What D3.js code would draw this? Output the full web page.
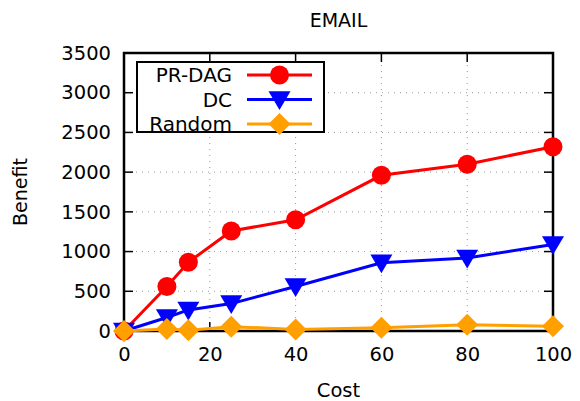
<!DOCTYPE html>
<html>
<head>
<meta charset="utf-8">
<script src="https://cdn.jsdelivr.net/npm/d3@7"></script>
<style>
  body { margin: 0; background: #fff; }
  text { font-family: "DejaVu Sans", Verdana, sans-serif; fill: #000; }
</style>
</head>
<body>
<svg id="chart" width="580" height="401"></svg>
<script>
var costs = [0, 10, 15, 25, 40, 60, 80, 100];
var prdag = [0, 560, 865, 1260, 1400, 1960, 2100, 2320];
var dc = [0, 170, 265, 345, 560, 860, 920, 1090];
var rand = [0, 25, 10, 55, 20, 40, 80, 60];

var xTicks = [0, 20, 40, 60, 80, 100];
var yTicks = [0, 500, 1000, 1500, 2000, 2500, 3000, 3500];

var seriesNames = ["PR-DAG", "DC", "Random"];
var seriesColors = ["#ff0000", "#0000ff", "#ff9f00"];
var seriesShapes = ["circle", "triangle", "diamond"];
var seriesValues = [prdag, dc, rand];

var svg = d3.select('#chart');

var pLeft = 124, pRight = 553, pTop = 53, pBottom = 331;

var x = d3.scaleLinear().domain([0, 100]).range([pLeft, pRight]);
var y = d3.scaleLinear().domain([0, 3500]).range([pBottom, pTop]);

// grid
var grid = svg.append('g').attr('class', 'grid');
grid.selectAll('.vg')
    .data(xTicks.slice(1, -1))
  .enter().append('line')
    .attr('x1', function(d) { return x(d); })
    .attr('x2', function(d) { return x(d); })
    .attr('y1', pTop)
    .attr('y2', pBottom)
    .attr('stroke', '#999')
    .attr('stroke-width', 1)
    .attr('stroke-dasharray', '1,5');
grid.selectAll('.hg')
    .data(yTicks.slice(1, -1))
  .enter().append('line')
    .attr('x1', pLeft)
    .attr('x2', pRight)
    .attr('y1', function(d) { return y(d); })
    .attr('y2', function(d) { return y(d); })
    .attr('stroke', '#999')
    .attr('stroke-width', 1)
    .attr('stroke-dasharray', '1,5');

// axes with inward ticks, mirrored
var tickLen = 9;
var axisBottom = d3.axisBottom(x).tickValues(xTicks).tickFormat(d3.format('d')).tickSize(0).tickPadding(16);
var axisLeft = d3.axisLeft(y).tickValues(yTicks).tickFormat(d3.format('d')).tickSize(0).tickPadding(13);

var gx = svg.append('g').attr('transform', 'translate(0,' + pBottom + ')').call(axisBottom);
var gy = svg.append('g').attr('transform', 'translate(' + pLeft + ',0)').call(axisLeft);
[gx, gy].forEach(function(g) {
  g.select('.domain').remove();
  g.selectAll('text').style('font-size', '19.5px').attr('fill', '#000')
    .style('font-family', '"DejaVu Sans", Verdana, sans-serif');
});

var ticks = svg.append('g').attr('stroke', '#000').attr('stroke-width', 1.5);
xTicks.forEach(function(d) {
  ticks.append('line').attr('x1', x(d)).attr('x2', x(d)).attr('y1', pBottom).attr('y2', pBottom - tickLen);
  ticks.append('line').attr('x1', x(d)).attr('x2', x(d)).attr('y1', pTop).attr('y2', pTop + tickLen);
});
yTicks.forEach(function(d) {
  ticks.append('line').attr('x1', pLeft).attr('x2', pLeft + tickLen).attr('y1', y(d)).attr('y2', y(d));
  ticks.append('line').attr('x1', pRight).attr('x2', pRight - tickLen).attr('y1', y(d)).attr('y2', y(d));
});

// border
svg.append('rect')
    .attr('x', pLeft)
    .attr('y', pTop)
    .attr('width', pRight - pLeft)
    .attr('height', pBottom - pTop)
    .attr('fill', 'none')
    .attr('stroke', '#000')
    .attr('stroke-width', 2.5);

// titles
svg.append('text').attr('x', (pLeft + pRight) / 2).attr('y', 27)
    .attr('text-anchor', 'middle').style('font-size', '19px').text('EMAIL');
svg.append('text').attr('x', (pLeft + pRight) / 2).attr('y', 397)
    .attr('text-anchor', 'middle').style('font-size', '19.5px').text('Cost');
svg.append('text').attr('transform', 'translate(27,' + ((pTop + pBottom) / 2) + ') rotate(-90)')
    .attr('text-anchor', 'middle').style('font-size', '19px').text('Benefit');

function drawMarker(g, shape, color, cx, cy) {
  if (shape == "circle") {
    g.append('circle').attr('cx', cx).attr('cy', cy).attr('r', 9.5).attr('fill', color);
  } else if (shape == "triangle") {
    var s = 11;
    g.append('path')
      .attr('d', 'M' + (cx - s) + ',' + (cy - s * 0.75) + 'L' + (cx + s) + ',' + (cy - s * 0.75) + 'L' + cx + ',' + (cy + s * 0.95) + 'Z')
      .attr('fill', color);
  } else {
    var d = 11;
    g.append('path')
      .attr('d', 'M' + cx + ',' + (cy - d) + 'L' + (cx + d) + ',' + cy + 'L' + cx + ',' + (cy + d) + 'L' + (cx - d) + ',' + cy + 'Z')
      .attr('fill', color);
  }
}

var line = d3.line()
    .x(function(d, i) { return x(costs[i]); })
    .y(function(d) { return y(d); });

var plot = svg.append('g');
seriesValues.forEach(function(vals, k) {
  var g = plot.append('g');
  g.append('path')
    .datum(vals)
    .attr('d', line)
    .attr('fill', 'none')
    .attr('stroke', seriesColors[k])
    .attr('stroke-width', 3);
  vals.forEach(function(v, i) {
    drawMarker(g, seriesShapes[k], seriesColors[k], x(costs[i]), y(v));
  });
});

// legend
var legend = svg.append('g');
legend.append('rect')
    .attr('x', 137).attr('y', 62).attr('width', 187).attr('height', 70)
    .attr('fill', '#fff').attr('stroke', '#000').attr('stroke-width', 2);
seriesNames.forEach(function(name, k) {
  var ly = 75 + k * 24.5;
  legend.append('text').attr('x', 232).attr('y', ly + 7)
    .attr('text-anchor', 'end').style('font-size', '20px').text(name);
  legend.append('line').attr('x1', 247).attr('x2', 312).attr('y1', ly).attr('y2', ly)
    .attr('stroke', seriesColors[k]).attr('stroke-width', 3);
  drawMarker(legend, seriesShapes[k], seriesColors[k], 279.5, ly);
});
</script>
</body>
</html>
